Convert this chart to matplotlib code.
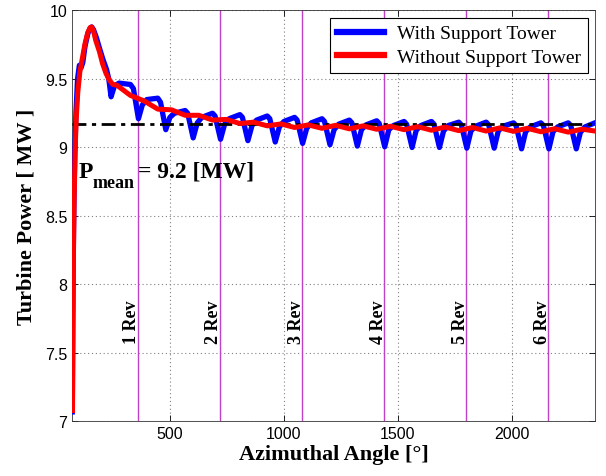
import matplotlib
matplotlib.use('Agg')
import matplotlib.pyplot as plt

# Azimut [deg] et puissance [MW]
ang_with = [72, 74, 76, 79, 83, 88, 95, 103, 110, 118, 128, 140, 150, 157, 165, 178, 192, 207, 222, 232,
            242, 257, 277, 327, 340,
            362, 379, 399, 447, 459,
            482, 500, 520, 567, 578,
            602, 620, 640, 687, 698,
            722, 740, 760, 807, 818,
            842, 860, 880, 927, 938,
            962, 980, 1000, 1047, 1058,
            1082, 1100, 1120, 1167, 1178,
            1202, 1220, 1240, 1287, 1298,
            1322, 1340, 1360, 1407, 1418,
            1442, 1460, 1480, 1527, 1538,
            1562, 1580, 1600, 1647, 1658,
            1682, 1700, 1720, 1767, 1778,
            1802, 1820, 1840, 1887, 1898,
            1922, 1940, 1960, 2007, 2018,
            2042, 2060, 2080, 2127, 2138,
            2162, 2180, 2200, 2247, 2258,
            2282, 2300, 2320, 2364]
p_with = [7.07, 7.7, 8.2, 8.6, 8.95, 9.25, 9.5, 9.6, 9.58, 9.62, 9.74, 9.83, 9.87, 9.88, 9.86, 9.80, 9.72, 9.64, 9.57, 9.50,
          9.37, 9.45, 9.47, 9.46, 9.43,
          9.21, 9.31, 9.35, 9.36, 9.33,
          9.13, 9.22, 9.25, 9.27, 9.25,
          9.07, 9.18, 9.22, 9.25, 9.23,
          9.06, 9.17, 9.21, 9.24, 9.22,
          9.05, 9.16, 9.20, 9.23, 9.21,
          9.04, 9.15, 9.19, 9.22, 9.20,
          9.03, 9.14, 9.18, 9.21, 9.19,
          9.02, 9.13, 9.17, 9.20, 9.18,
          9.01, 9.13, 9.165, 9.195, 9.175,
          9.005, 9.13, 9.16, 9.19, 9.17,
          9.0, 9.125, 9.16, 9.19, 9.17,
          9.0, 9.12, 9.16, 9.185, 9.165,
          8.995, 9.12, 9.155, 9.185, 9.165,
          8.995, 9.12, 9.155, 9.18, 9.16,
          8.99, 9.115, 9.15, 9.18, 9.16,
          8.99, 9.115, 9.15, 9.18, 9.16,
          8.99, 9.11, 9.15, 9.18]

ang_without = [73, 75, 77, 80, 84, 89, 96, 105, 117, 128, 140, 150, 157, 165, 175, 191, 205, 220, 235, 250,
               267, 327, 387, 447, 507, 567, 627, 687, 747, 807, 867, 927, 987, 1047, 1107, 1167,
               1227, 1287, 1347, 1407, 1467, 1527, 1587, 1647, 1707, 1767, 1827, 1887, 1947, 2007,
               2067, 2127, 2187, 2247, 2307, 2364]
p_without = [7.08, 7.7, 8.2, 8.6, 8.95, 9.2, 9.4, 9.55, 9.66, 9.76, 9.84, 9.875, 9.88, 9.85, 9.78, 9.70, 9.61, 9.54, 9.49, 9.46,
             9.455, 9.38, 9.34, 9.28, 9.275, 9.235, 9.235, 9.20, 9.205, 9.175, 9.185, 9.158, 9.172, 9.146, 9.165, 9.14,
             9.162, 9.136, 9.158, 9.133, 9.155, 9.13, 9.152, 9.126, 9.149, 9.123, 9.146, 9.12, 9.143, 9.118,
             9.14, 9.115, 9.137, 9.112, 9.134, 9.12]

rev_angles = [360, 720, 1080, 1440, 1800, 2160]
rev_labels = ['1 Rev', '2 Rev', '3 Rev', '4 Rev', '5 Rev', '6 Rev']
p_mean = 9.17

serif = 'Liberation Serif'
plt.rcParams['font.family'] = 'Liberation Sans'

fig = plt.figure(figsize=(6.06, 4.77), dpi=100)
ax = fig.add_axes([0.1193, 0.1143, 0.8625, 0.8616])

for a in rev_angles:
    ax.axvline(a, color='#c040c8', lw=1, zorder=2)
for a, lab in zip(rev_angles, rev_labels):
    ax.text(a - 27, 7.73, lab, rotation=90, ha='center', va='center',
            fontsize=13, fontweight='bold', family=serif)

ax.plot(ang_with, p_with, color='#0000ff', lw=3.8, label='With Support Tower', zorder=3)
ax.axhline(p_mean, color='black', lw=2, linestyle=(0, (5, 2, 1.5, 2)), zorder=4)
ax.plot(ang_without, p_without, color='#ff0000', lw=3.6, label='Without Support Tower', zorder=5)

# P_mean
ax.text(101, 8.785, 'P', fontsize=17, fontweight='bold', family=serif, va='baseline')
ax.text(162, 8.71, 'mean', fontsize=13, fontweight='bold', family=serif, va='baseline')
ax.text(360, 8.785, '= 9.2 [MW]', fontsize=17, fontweight='bold', family=serif, va='baseline')

ax.set_xlim(72, 2364)
ax.set_ylim(7, 10)
ax.set_xticks([500, 1000, 1500, 2000])
ax.set_yticks([7, 7.5, 8, 8.5, 9, 9.5, 10])
ax.set_yticklabels(['7', '7.5', '8', '8.5', '9', '9.5', '10'])
ax.tick_params(direction='in', top=True, right=True, labelsize=11.5, length=4, width=0.6)
ax.grid(True, color='#808080', linestyle=(0, (1, 2.5)), lw=0.8)
for s in ax.spines.values():
    s.set_linewidth(0.6)
    s.set_color('#333333')

ax.set_xlabel('Azimuthal Angle [°]', fontsize=16, fontweight='bold', family=serif, labelpad=2)
ax.set_ylabel('Turbine Power [ MW ]', fontsize=16, fontweight='bold', family=serif, labelpad=6)

leg = ax.legend(loc='upper right', bbox_to_anchor=(0.9866, 0.9818), borderaxespad=0,
                fancybox=False, framealpha=1, edgecolor='black',
                prop={'family': serif, 'size': 14},
                handlelength=2.4, handletextpad=0.7, borderpad=0.35, labelspacing=0.3)
leg.get_frame().set_linewidth(0.8)
for h in leg.get_lines():
    h.set_linewidth(4.5)

plt.savefig('out.png', dpi=100)
